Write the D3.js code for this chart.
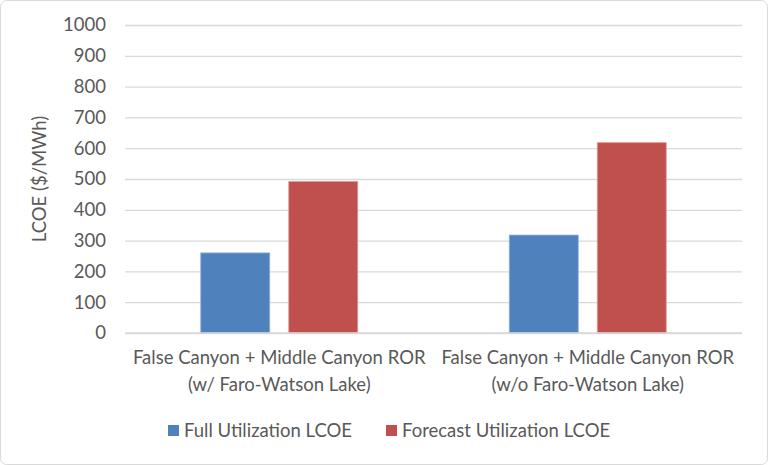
<!DOCTYPE html>
<html>
<head>
<meta charset="utf-8">
<script src="https://cdn.jsdelivr.net/npm/d3@7"></script>
<style>
  body { margin: 0; background: #fff; }
  text { font-family: Lato, "Open Sans", sans-serif; fill: #595959; }
</style>
</head>
<body>
<div id="chart"></div>
<script>
// LCOE bar chart, two scenarios x two series

var categories = [
    ["False Canyon + Middle Canyon ROR", "(w/ Faro-Watson Lake)"],
    ["False Canyon + Middle Canyon ROR", "(w/o Faro-Watson Lake)"]
];
var seriesNames  = ["Full Utilization LCOE", "Forecast Utilization LCOE"];
var seriesColors = ["#4F81BD", "#C0504D"];
var fullUtil     = [260, 318];
var forecastUtil = [492, 618];
var yTicks       = [0, 100, 200, 300, 400, 500, 600, 700, 800, 900, 1000];

var W = 768, H = 465;
var fs = "18.5px";
var margin = {top: 25, right: 26, bottom: 132, left: 125},
    width  = W - margin.left - margin.right,
    height = H - margin.top  - margin.bottom;

var svg = d3.select("#chart").append("svg")
    .attr("width", W).attr("height", H);

// outer chart border
svg.append("rect")
    .attr("x", 0.5).attr("y", 0.5)
    .attr("width", W - 1).attr("height", H - 1)
    .attr("rx", 6)
    .attr("fill", "#fff").attr("stroke", "#d9d9d9");

var g = svg.append("g").attr("transform", "translate(" + margin.left + "," + margin.top + ")");

var x0 = d3.scaleBand().domain(d3.range(categories.length)).range([0, width]);
var x1 = d3.scaleBand().domain(d3.range(seriesNames.length))
    .range([0, x0.bandwidth()]).paddingInner(0.216).paddingOuter(0.861);
var y  = d3.scaleLinear().domain([0, 1000]).range([height, 0]);

// gridlines
g.append("g")
    .call(d3.axisLeft(y).tickValues(yTicks).tickSize(-width).tickFormat(""))
    .call(function(a) {
        a.select(".domain").remove();
        a.selectAll("line").attr("stroke", "#d9d9d9").attr("stroke-width", 1.3);
    });

// y tick labels
g.append("g")
    .call(d3.axisLeft(y).tickValues(yTicks).tickSize(0).tickPadding(19).tickFormat(d3.format("d")))
    .call(function(a) {
        a.select(".domain").remove();
        a.selectAll("text").style("font-size", fs).attr("fill", "#595959")
            .style("font-family", "Lato, sans-serif");
    });

// y axis title
svg.append("text")
    .attr("transform", "translate(46," + (margin.top + height / 2) + ") rotate(-90)")
    .attr("text-anchor", "middle")
    .style("font-size", fs)
    .text("LCOE ($/MWh)");

// bars
var data = [fullUtil, forecastUtil];
data.forEach(function(vals, s) {
    g.selectAll(".bar" + s).data(vals).enter().append("rect")
        .attr("x", function(d, i) { return x0(i) + x1(s); })
        .attr("y", function(d) { return y(d); })
        .attr("width", x1.bandwidth())
        .attr("height", function(d) { return height - y(d); })
        .attr("fill", seriesColors[s])
        .attr("stroke", s === 0 ? "#8eb0dc" : "#e09a98")
        .attr("stroke-width", 0.8);
});

// baseline
g.append("line")
    .attr("x1", 0).attr("x2", width)
    .attr("y1", height).attr("y2", height)
    .attr("stroke", "#d9d9d9").attr("stroke-width", 1.3);

// category labels
categories.forEach(function(lines, i) {
    var t = g.append("text")
        .attr("text-anchor", "middle")
        .attr("x", x0(i) + x0.bandwidth() / 2)
        .attr("y", height + 31)
        .style("font-size", fs);
    lines.forEach(function(l, k) {
        t.append("tspan").attr("x", x0(i) + x0.bandwidth() / 2)
            .attr("dy", k === 0 ? 0 : 27).text(l);
    });
});

// legend
var legendX = [168, 386];
seriesNames.forEach(function(name, s) {
    var lg = svg.append("g").attr("transform", "translate(" + legendX[s] + ",425)");
    lg.append("rect").attr("width", 11).attr("height", 11).attr("fill", seriesColors[s]);
    lg.append("text").attr("x", 16).attr("y", 12)
        .style("font-size", fs).text(name);
});
</script>
</body>
</html>
